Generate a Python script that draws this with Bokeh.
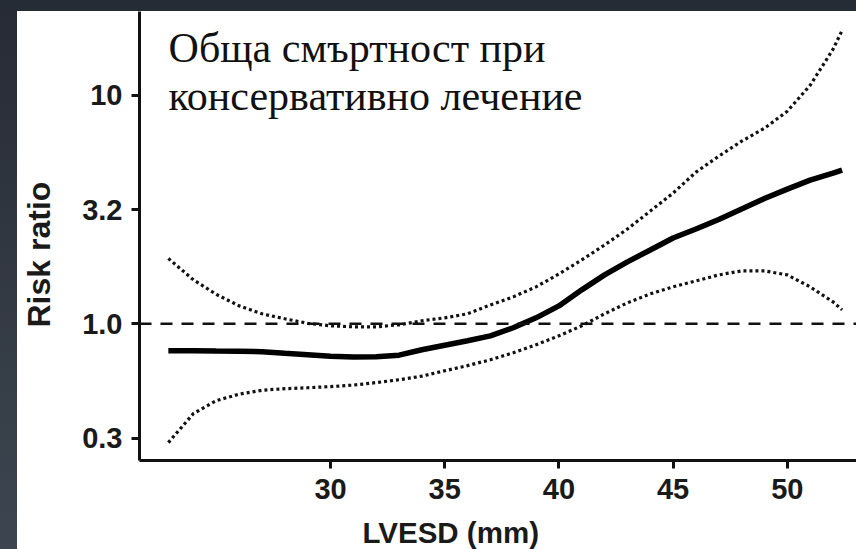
from bokeh.plotting import figure
from bokeh.models import Range1d, Span, Label, FixedTicker, Spacer, Title
from bokeh.layouts import column, row
from bokeh.embed import file_html
from bokeh.resources import INLINE

# ---- data ----
lvesd = [22.9, 24, 25, 26, 27, 28, 29, 30, 31, 32, 33, 34, 35, 36, 37, 38, 39, 40,
         41, 42, 43, 44, 45, 46, 47, 48, 49, 50, 51, 52, 52.4]
risk = [0.762, 0.762, 0.760, 0.759, 0.755, 0.743, 0.732, 0.721, 0.715, 0.718, 0.729,
        0.770, 0.806, 0.843, 0.886, 0.961, 1.062, 1.198, 1.408, 1.637, 1.866, 2.104,
        2.375, 2.599, 2.860, 3.178, 3.532, 3.886, 4.255, 4.564, 4.705]
upper = [1.932, 1.557, 1.345, 1.198, 1.106, 1.052, 1.005, 0.980, 0.970, 0.970, 0.990,
         1.031, 1.062, 1.106, 1.210, 1.312, 1.451, 1.653, 1.903, 2.213, 2.599, 3.114,
         3.733, 4.610, 5.415, 6.298, 7.175, 8.514, 11.06, 15.88, 19.23]
lower = [0.302, 0.405, 0.461, 0.492, 0.512, 0.520, 0.525, 0.531, 0.539, 0.553, 0.569,
         0.590, 0.623, 0.656, 0.696, 0.747, 0.810, 0.886, 0.980, 1.106, 1.235, 1.352,
         1.451, 1.541, 1.637, 1.704, 1.704, 1.637, 1.451, 1.248, 1.151]
reference_ratio = 1.0
x_ticks = [30, 35, 40, 45, 50]
y_ticks = [0.3162, 1.0, 3.162, 10.0]
y_tick_labels = ["0.3", "1.0", "3.2", "10"]
title_lines = ["Обща смъртност при", "консервативно лечение"]
x_label = "LVESD (mm)"
y_label = "Risk ratio"

DARK = "#262c35"

p = figure(width=839, height=538, y_axis_type="log",
           x_range=Range1d(21.637, 53.03), y_range=Range1d(0.2522, 23.27),
           output_backend="svg", toolbar_location=None,
           min_border_left=122, min_border_right=0, min_border_top=0,
           min_border_bottom=88)
p.outline_line_color = None
p.background_fill_color = "white"
p.border_fill_color = "white"
p.grid.visible = False

# axes
for ax in (p.xaxis[0], p.yaxis[0]):
    ax.axis_line_width = 3
    ax.axis_line_color = "#111111"
    ax.major_tick_line_width = 3
    ax.major_tick_line_color = "#111111"
    ax.major_tick_out = 8
    ax.major_tick_in = 0
    ax.minor_tick_line_color = None
    ax.major_label_text_font = "Liberation Sans"
    ax.major_label_text_font_style = "bold"
    ax.major_label_text_font_size = "29px"
    ax.major_label_text_color = "#1a1a1a"

p.xaxis.ticker = FixedTicker(ticks=x_ticks)
p.xaxis.major_label_standoff = 10
p.yaxis.ticker = FixedTicker(ticks=y_ticks)
p.yaxis.major_label_overrides = {t: s for t, s in zip(y_ticks, y_tick_labels)}
p.yaxis.major_label_standoff = 9

# axis titles (with empty spacer panels to place them like the reference)
xt = Title(text=x_label, align="left", offset=223, standoff=2,
           vertical_align="bottom", text_font="Liberation Sans",
           text_font_style="bold", text_font_size="29.5px", text_color="#1a1a1a")
yt = Title(text=y_label, align="left", offset=133, standoff=2,
           vertical_align="top", text_font="Liberation Sans",
           text_font_style="bold", text_font_size="32px", text_color="#1a1a1a")

p.add_layout(Title(text=" ", text_font_size="1px", standoff=8), "below")
p.add_layout(xt, "below")
p.add_layout(Title(text=" ", text_font_size="1px", standoff=17), "left")
p.add_layout(yt, "left")

# reference line
p.add_layout(Span(location=reference_ratio, dimension="width", line_color="#111111",
                  line_width=2.5, line_dash="12 9"))

# curves
p.line(lvesd, upper, line_color="#111111", line_width=3.2, line_dash="3 3")
p.line(lvesd, lower, line_color="#111111", line_width=3.2, line_dash="3 3")
p.line(lvesd, risk, line_color="#000000", line_width=5.5)

# title text
for txt, yy in zip(title_lines, [16.04, 9.90]):
    p.add_layout(Label(x=22.91, y=yy, text=txt, text_font="Liberation Serif",
                       text_font_size="42px", text_color="#111111",
                       text_baseline="alphabetic", text_align="left"))

top = Spacer(width=856, height=11, styles={"background-color": DARK})
left = Spacer(width=17, height=538,
              styles={"background": "linear-gradient(to bottom, #262c35, #3d4650)"})
layout = column(top, row(left, p, spacing=0), spacing=0)

open("out.html", "w").write(file_html(layout, INLINE))
